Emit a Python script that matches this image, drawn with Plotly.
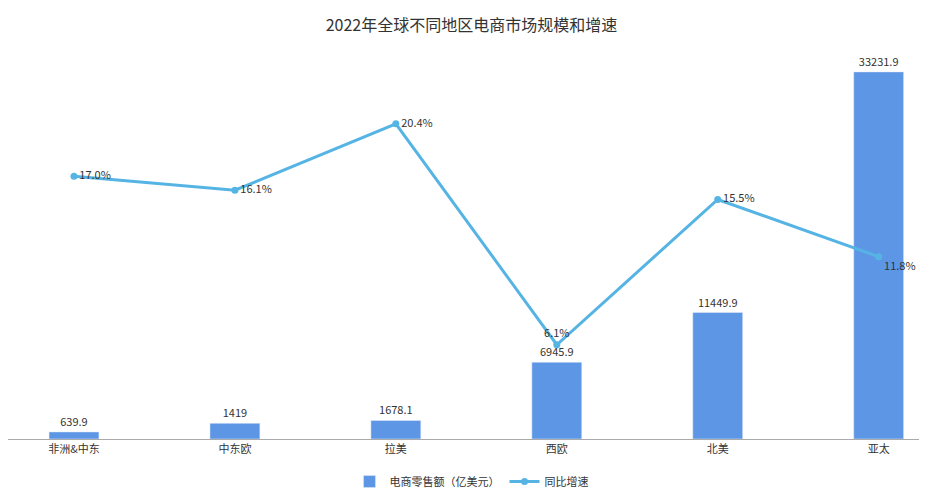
import plotly.graph_objects as go

categories = ["非洲&中东", "中东欧", "拉美", "西欧", "北美", "亚太"]
sales = [639.9, 1419, 1678.1, 6945.9, 11449.9, 33231.9]
sales_labels = ["639.9", "1419", "1678.1", "6945.9", "11449.9", "33231.9"]
growth = [17.0, 16.1, 20.4, 6.1, 15.5, 11.8]
growth_labels = ["17.0%", "16.1%", "20.4%", "6.1%", "15.5%", "11.8%"]
growth_pos = ["middle right", "middle right", "middle right", "top center", "middle right", "bottom right"]

font = "Noto Sans CJK SC"
fig = go.Figure()
fig.add_trace(go.Bar(x=categories, y=sales, name="电商零售额（亿美元）", marker_color="#5E96E6",
                     width=0.31, text=sales_labels, textposition="outside", cliponaxis=False,
                     textfont=dict(size=11, color="#333")))
fig.add_trace(go.Scatter(x=categories, y=growth, name="同比增速", yaxis="y2", mode="lines+markers+text",
                         line=dict(color="#56B4E4", width=3), marker=dict(size=7, color="#56B4E4"),
                         text=growth_labels, textposition=growth_pos, cliponaxis=False,
                         textfont=dict(size=11, color="#333")))
fig.update_layout(
    width=927, height=491, paper_bgcolor="white", plot_bgcolor="white",
    font=dict(family=font, size=11, color="#333"),
    title=dict(text="2022年全球不同地区电商市场规模和增速", x=0.5, y=0.975, xanchor="center",
               font=dict(size=16, color="#333")),
    margin=dict(l=0, r=0, t=30, b=60),
    bargap=0.5,
    xaxis=dict(range=[-0.41, 5.35], showline=True, linecolor="#aaa", ticks="", showgrid=False,
               tickfont=dict(size=11)),
    yaxis=dict(range=[0, 36300], visible=False, showgrid=False),
    yaxis2=dict(range=[0, 25.95], overlaying="y", visible=False, showgrid=False),
    legend=dict(orientation="h", x=0.5, xanchor="center", y=-0.07, yanchor="top",
                font=dict(size=11)),
    showlegend=True,
)
fig.write_html("out.html")
